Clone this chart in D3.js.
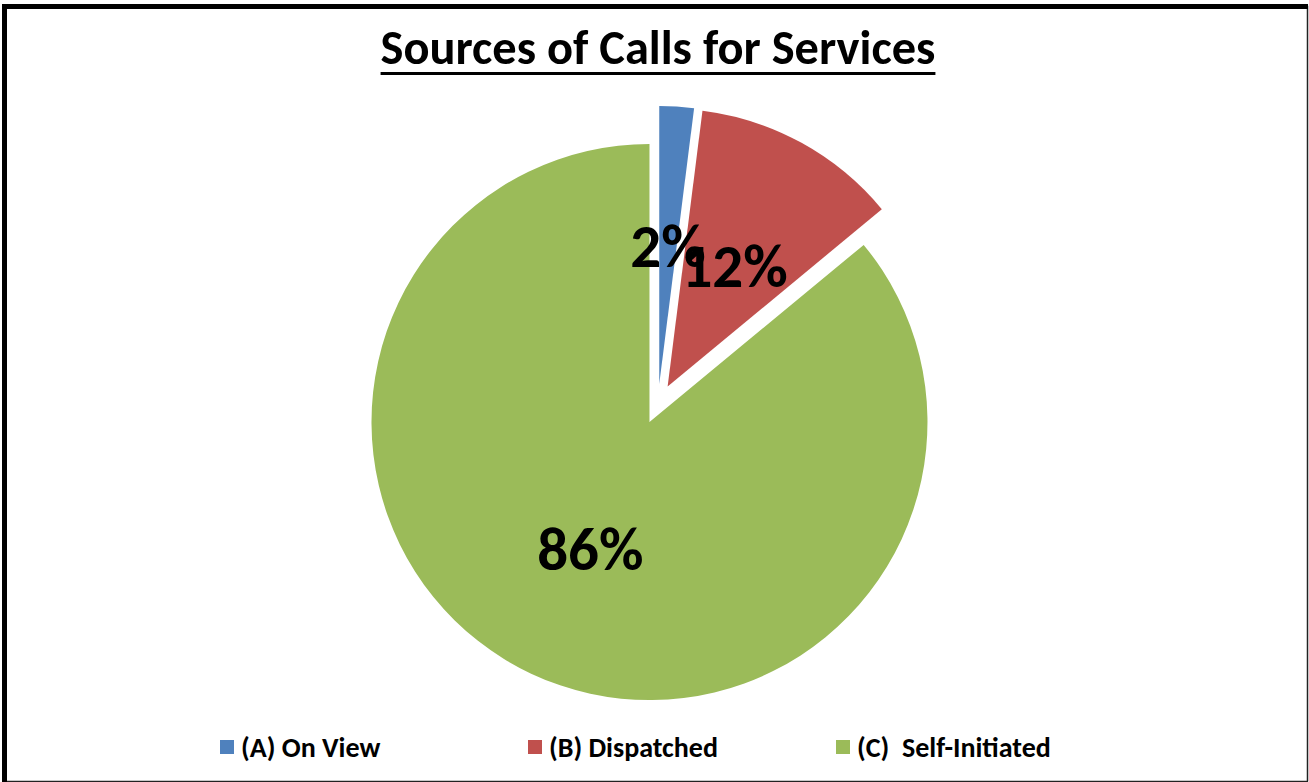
<!DOCTYPE html>
<html>
<head>
<meta charset="utf-8">
<script src="https://cdn.jsdelivr.net/npm/d3@7"></script>
<style>
  body { margin: 0; background: #fff; }
  svg text { font-family: Carlito, Lato, "Open Sans", sans-serif; font-weight: bold; }
</style>
</head>
<body>
<svg id="chart" width="1309" height="782"></svg>
<script>
const categories = ['(A) On View', '(B) Dispatched', '(C)  Self-Initiated'];
const values = [2, 12, 86];
const pctLabels = ['2%', '12%', '86%'];
const colors = ['#4F81BD', '#C0504D', '#9BBB59'];
const title = 'Sources of Calls for Services';

const width = 1309, height = 782;
const svg = d3.select('#chart');

// frame: heavy top/left, thin right/bottom
svg.append('path')
    .attr('d', 'M1308,781.5 L4.5,781.5 L4.5,6.5 L1307.5,6.5 L1307.5,781.5')
    .attr('fill', 'none').attr('stroke', '#222').attr('stroke-width', 1.5);
svg.append('path')
    .attr('d', 'M4.5,782 L4.5,6.5 L1308,6.5')
    .attr('fill', 'none').attr('stroke', '#000').attr('stroke-width', 5);

// title
const titleText = svg.append('text')
    .attr('x', 658).attr('y', 64)
    .attr('text-anchor', 'middle')
    .style('font-size', '40px')
    .text(title);
let tw = titleText.node().getComputedTextLength();
titleText.style('font-size', (40 * 555 / tw) + 'px');
tw = titleText.node().getComputedTextLength();
svg.append('line')
    .attr('x1', 658 - tw / 2).attr('x2', 658 + tw / 2)
    .attr('y1', 73.5).attr('y2', 73.5)
    .attr('stroke', '#000').attr('stroke-width', 3);

// pie
const cx = 658, cy = 404, radius = 278, explode = 20;
const pie = d3.pie().sort(null).value(d => d)(values);
const arc = d3.arc().innerRadius(0).outerRadius(radius);
const shift = d => {
    const a = (d.startAngle + d.endAngle) / 2;
    return [explode * Math.sin(a), -explode * Math.cos(a)];
};

const g = svg.append('g').attr('transform', `translate(${cx},${cy})`);
g.selectAll('path.slice')
    .data(pie)
    .enter()
    .append('path')
    .attr('class', 'slice')
    .attr('transform', d => `translate(${shift(d)})`)
    .attr('d', arc)
    .attr('fill', (d, i) => colors[i]);

g.selectAll('text.pct')
    .data(pie)
    .enter()
    .append('text')
    .attr('class', 'pct')
    .attr('transform', d => {
        const s = shift(d), c = arc.centroid(d);
        return `translate(${c[0] + s[0]},${c[1] + s[1]})`;
    })
    .attr('text-anchor', 'middle')
    .attr('dy', '0.36em')
    .style('font-size', '61px')
    .attr('fill', '#000')
    .text((d, i) => pctLabels[i]);

// legend
const legendX = d3.scalePoint().domain(categories).range([220, 836]);
const legend = svg.selectAll('g.legend')
    .data(categories)
    .enter()
    .append('g')
    .attr('class', 'legend')
    .attr('transform', d => `translate(${legendX(d)},747)`);

legend.append('rect')
    .attr('x', 0).attr('y', -7)
    .attr('width', 14).attr('height', 14)
    .attr('fill', (d, i) => colors[i]);

legend.append('text')
    .attr('x', 21).attr('y', 0)
    .attr('dy', '0.36em')
    .style('font-size', '28px')
    .attr('xml:space', 'preserve')
    .text(d => d);
</script>
</body>
</html>
